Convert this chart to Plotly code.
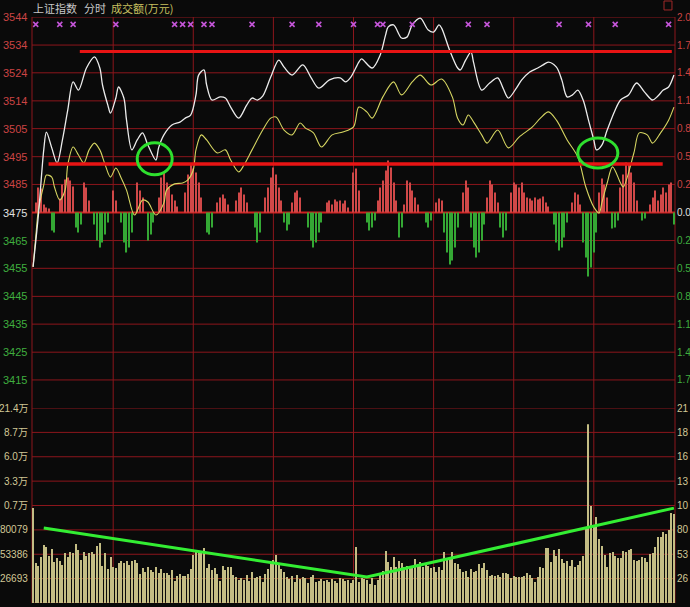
import plotly.graph_objects as go

# ---------------- data ----------------
minutes = list(range(241))

# price line (上证指数) key points: minute index, price
white_min = [0,2,4,5,7,9,11,13,15,17,20,23,25,26,28,29,31,32,34,35,
             37,39,41,43,46,47,49,52,55,57,59,61,62,64,65,67,70,72,74,77,
             80,82,84,86,89,92,94,97,101,104,107,111,115,117,119,122,123,127,130,132,
             133,135,138,140,142,145,148,150,152,153,156,159,160,162,164,165,168,171,174,176,
             178,181,183,186,189,191,193,196,198,200,202,204,206,208,210,211,213,215,218,220,
             223,226,229,232,234,236,238,240]
white_val = [3455.8,3474.1,3497.1,3503.4,3497.8,3492.5,3500.6,3511.2,3521.1,3518.2,
             3526.0,3529.9,3526.0,3520.0,3512.9,3510.1,3515.4,3519.3,3515.4,3507.6,
             3497.1,3500.6,3503.1,3498.8,3493.5,3497.8,3502.4,3505.9,3506.9,3508.3,
             3509.4,3516.5,3523.5,3525.3,3520.0,3514.7,3515.8,3515.4,3512.2,3508.3,
             3512.9,3515.4,3514.7,3516.1,3522.8,3528.8,3526.3,3523.5,3527.1,3522.8,
             3518.9,3521.8,3522.5,3521.1,3522.8,3528.1,3529.2,3526.0,3530.6,3537.6,
             3540.5,3541.2,3536.6,3536.9,3541.2,3543.6,3539.4,3538.7,3541.2,3540.1,
             3532.3,3526.0,3525.3,3528.8,3531.6,3527.8,3518.2,3520.7,3522.5,3518.9,
             3515.4,3518.9,3521.8,3524.6,3526.0,3527.1,3528.1,3526.3,3521.8,3515.8,
             3516.5,3518.2,3514.7,3507.6,3500.6,3497.1,3498.8,3504.1,3511.2,3514.7,
             3516.5,3520.7,3517.5,3514.7,3516.1,3518.2,3519.3,3523.5]

# leading line (yellow) key points
yellow_min = [0,1,2,4,5,7,8,10,12,13,15,17,19,21,23,25,27,29,31,33,
              35,38,41,43,46,49,50,53,56,58,60,61,63,65,69,72,74,77,79,82,
              86,89,91,94,97,100,102,105,108,112,116,120,122,125,127,131,135,138,142,145,
              149,153,157,159,161,163,165,168,170,174,178,182,187,190,193,196,200,204,207,210,
              212,213,215,217,220,221,225,227,230,232,235,238,240]
yellow_val = [3455.8,3466.4,3475.9,3484.7,3488.2,3487.5,3484.0,3479.4,3482.9,3491.8,
              3498.1,3495.3,3492.5,3497.1,3499.5,3497.1,3491.8,3487.5,3490.7,3487.2,
              3482.9,3474.1,3479.4,3478.7,3474.1,3478.4,3482.9,3485.1,3485.4,3486.5,
              3490.0,3497.1,3502.4,3500.6,3496.0,3497.1,3493.5,3489.3,3491.8,3497.1,
              3504.1,3508.3,3508.7,3504.1,3502.4,3506.6,3504.8,3503.1,3498.1,3502.4,
              3503.4,3505.2,3512.2,3510.5,3508.3,3515.8,3521.1,3516.5,3521.1,3523.5,
              3520.0,3522.1,3515.8,3508.3,3505.9,3509.4,3506.9,3502.4,3499.5,3504.1,
              3497.8,3501.6,3505.2,3508.3,3510.5,3507.6,3500.6,3494.6,3484.0,3476.9,
              3474.8,3478.4,3485.4,3491.1,3485.4,3484.0,3496.0,3503.1,3502.4,3499.5,
              3503.1,3507.6,3512.2]

# buy/sell strength bars (red above / green below the 3475 baseline)
strength = [0,10,25,24,8,5,4,-18,-20,0,
            14,28,33,35,32,26,-15,-20,-12,30,
            25,12,0,-12,-28,-35,-30,-22,-10,0,
            22,12,0,-10,-30,-40,-35,-20,0,30,
            22,15,0,-28,-22,-10,0,15,35,40,
            30,25,18,12,6,0,0,20,38,48,
            44,40,30,15,0,-20,-22,-15,0,10,
            15,18,14,8,0,0,12,20,25,18,
            10,0,0,-15,-30,-20,0,15,25,35,
            45,38,25,12,-10,-18,-12,10,20,22,
            15,0,0,-15,-28,-35,-30,-20,-10,0,
            10,12,8,13,11,12,9,12,5,0,
            40,44,22,0,0,-10,-18,-15,-8,12,
            25,32,42,52,45,30,12,-25,-15,8,
            32,30,22,15,8,0,0,-10,-15,-8,
            0,10,14,12,-20,-40,-52,-48,-35,-15,
            0,20,32,25,-15,-35,-45,-40,-28,-12,
            15,32,28,20,10,-15,-25,-18,0,20,
            30,28,25,30,20,15,14,12,15,13,
            14,16,10,6,0,-12,-30,-38,-35,-25,
            -10,0,10,20,18,8,-30,-45,-64,-55,
            -40,-20,20,34,28,15,0,-16,-15,-8,
            25,38,50,48,40,30,12,0,-8,-6,
            0,8,15,22,12,18,25,20,28,30,
            -12]

# turnover per minute (万元)
volume = [103930,43760,40480,50320,63450,61260,51420,59080,44850,49230,
          45950,41570,54700,50320,55790,54700,64550,57980,47040,55790,
          51420,54700,55790,53610,62360,65640,40480,54700,37200,50320,
          39380,38290,43760,45950,43760,45950,41570,45950,47040,43760,
          31730,38290,33910,39380,36100,33910,39380,32820,37200,32820,
          32820,30630,36100,24070,29540,31730,29540,29540,31730,37200,
          52510,55790,56890,54700,60170,38290,42670,36100,38290,31730,
          24070,40480,36100,39380,39380,30630,28440,25160,27350,25160,
          30630,24070,33910,27350,28440,29540,22970,31730,37200,42670,
          47040,52510,41570,37200,33910,28440,26260,29540,22970,30630,
          26260,28440,27350,21880,28440,30630,22970,24070,26260,24070,
          25160,22970,26260,24070,21880,27350,26260,24070,25160,21880,
          25160,61260,22970,27350,26260,25160,20790,27350,19690,25160,
          30630,35010,56890,44850,39380,50320,39380,45950,43760,39380,
          40480,38290,40480,48140,42670,44850,39380,41570,40480,38290,
          39380,33910,39380,36100,55790,48140,50320,55790,43760,42670,
          37200,33910,35010,28440,37200,33910,35010,42670,38290,43760,
          36100,29540,30630,29540,30630,28440,32820,32820,31730,27350,
          29540,28440,28440,28440,29540,32820,30630,27350,22970,28440,
          39380,38290,60170,60170,44850,57980,51420,59080,48140,43760,
          45950,40480,47040,39380,41570,45950,51420,80960,195830,106120,
          85330,94080,70020,62360,52510,39380,54700,55790,51420,49230,
          49230,56890,55790,57980,59080,47040,45950,47040,50320,49230,
          44850,53610,54700,61260,72200,72200,77670,75490,79860,98460,
          97370]

# signal markers (×) along the top
signal_min = [1,10,15,31,53,56,59,64,67,82,97,107,120,129,131,142,163,170,197,208,218,238]

# hand-drawn annotations
resist_level = 3531.8
support_level = 3492.1
trend_min = [4, 125, 240]
trend_vol = [82050, 28440, 103930]

# axis labels
price_ticks = [3544.0,3534.1,3524.3,3514.4,3504.6,3494.7,3484.9,3475.0,
               3465.1,3455.3,3445.4,3435.6,3425.7,3415.9]
price_labels = ["3544","3534","3524","3514","3505","3495","3485","3475",
                "3465","3455","3445","3435","3425","3415"]
pct_labels = ["2.0","1.7","1.4","1.1","0.8","0.5","0.2","0.0",
              "0.2","0.5","0.8","1.1","1.4","1.7"]
vol_ticks = [213544,186851,160158,133465,106772,80079,53386,26693]
vol_labels = ["21.4万","8.7万","6.0万","3.3万","0.7万","80079","53386","26693"]
vol_labels_r = ["21","18","16","13","10","80","53","26"]

# ---------------- styling ----------------
BG = "#0a0a0a"
GRID = "rgb(140,22,28)"
RED_TXT = "#cc4444"
GRN_TXT = "#3fae3f"
WHT_TXT = "#e0e0e0"
VOL_TXT = "#d2c896"
FONT = "Liberation Sans, Noto Sans CJK SC"
BASE = 3475.0

fig = go.Figure()

# strength bars
fig.add_trace(go.Bar(
    x=minutes, y=strength, width=0.4, xaxis="x", yaxis="y",
    marker=dict(color=["#d04848" if v > 0 else "#34a834" for v in strength], line=dict(width=0)),
    hoverinfo="skip"))

# volume bars
fig.add_trace(go.Bar(
    x=minutes, y=volume, width=0.38, xaxis="x", yaxis="y2",
    marker=dict(color="#c4bd84", line=dict(width=0)), hoverinfo="skip"))

# volume trend drawing
fig.add_trace(go.Scatter(
    x=trend_min, y=trend_vol, xaxis="x", yaxis="y2", mode="lines",
    line=dict(color="#33ee33", width=3), hoverinfo="skip"))

# yellow line
fig.add_trace(go.Scatter(
    x=yellow_min, y=yellow_val, xaxis="x", yaxis="y3", mode="lines",
    line=dict(color="#d6d662", width=1.1, shape="spline", smoothing=0.9), hoverinfo="skip"))

# white price line
fig.add_trace(go.Scatter(
    x=white_min, y=white_val, xaxis="x", yaxis="y3", mode="lines",
    line=dict(color="#ececec", width=1.3, shape="spline", smoothing=0.9), hoverinfo="skip"))

# signal markers
fig.add_trace(go.Scatter(
    x=signal_min, y=[3541.4] * len(signal_min), xaxis="x", yaxis="y3", mode="markers",
    marker=dict(symbol="x-thin", size=5, line=dict(color="#c455d8", width=1.6)),
    hoverinfo="skip"))

shapes = []
# horizontal grid lines (price panel)
for t in price_ticks:
    if t == BASE:
        continue
    shapes.append(dict(type="line", xref="paper", yref="y3", x0=0, x1=1, y0=t, y1=t,
                       line=dict(color=GRID, width=1), layer="below"))
# volume grid lines
for t in vol_ticks + [0]:
    col = "rgb(150,60,30)" if t in (26693, 0) else GRID
    shapes.append(dict(type="line", xref="paper", yref="y2", x0=0, x1=1, y0=t, y1=t,
                       line=dict(color=col, width=1), layer="below"))
# vertical grid lines
for m in range(30, 240, 30):
    shapes.append(dict(type="line", xref="x", yref="paper", x0=m, x1=m, y0=0, y1=1,
                       line=dict(color=GRID, width=1), layer="below"))
for px in (0, 1):
    shapes.append(dict(type="line", xref="paper", yref="paper", x0=px, x1=px, y0=0, y1=1,
                       line=dict(color=GRID, width=1), layer="below"))
# baseline 3475
shapes.append(dict(type="line", xref="paper", yref="y3", x0=0, x1=1, y0=BASE, y1=BASE,
                   line=dict(color="#d02020", width=2), layer="below"))
# hand-drawn red lines
shapes.append(dict(type="line", xref="x", yref="y3", x0=17.5, x1=239.2,
                   y0=resist_level, y1=resist_level, line=dict(color="#e81414", width=3)))
shapes.append(dict(type="line", xref="x", yref="y3", x0=5.8, x1=235.8,
                   y0=support_level, y1=support_level, line=dict(color="#e81414", width=3.5)))
# green circles
shapes.append(dict(type="circle", xref="x", yref="y3", x0=39.0, x1=52.1, y0=3488.3, y1=3499.6,
                   line=dict(color="#2ee02e", width=3)))
shapes.append(dict(type="circle", xref="x", yref="y3", x0=204.0, x1=219.0, y0=3490.7, y1=3501.3,
                   line=dict(color="#2ee02e", width=3)))
# small box at top right
shapes.append(dict(type="rect", xref="paper", yref="paper", x0=0.9829, x1=0.9953,
                   y0=1.012, y1=1.0273, line=dict(color="#a02828", width=1)))

ann = []
for t, lab, pl in zip(price_ticks, price_labels, pct_labels):
    col = WHT_TXT if t == BASE else (RED_TXT if t > BASE else GRN_TXT)
    ann.append(dict(xref="paper", yref="y3", x=0, y=t, text=lab, showarrow=False,
                    xanchor="right", yanchor="middle", xshift=-3,
                    font=dict(family=FONT, size=11, color=col)))
    ann.append(dict(xref="paper", yref="y3", x=1, y=t, text=pl, showarrow=False,
                    xanchor="left", yanchor="middle", xshift=0,
                    font=dict(family=FONT, size=10, color=col)))
for t, lab, lr in zip(vol_ticks, vol_labels, vol_labels_r):
    ann.append(dict(xref="paper", yref="y2", x=0, y=t, text=lab, showarrow=False,
                    xanchor="right", yanchor="middle", xshift=-2,
                    font=dict(family=FONT, size=10, color=VOL_TXT)))
    ann.append(dict(xref="paper", yref="y2", x=1, y=t, text=lr, showarrow=False,
                    xanchor="left", yanchor="middle", xshift=0,
                    font=dict(family=FONT, size=10, color=VOL_TXT)))
# title texts
ann.append(dict(xref="paper", yref="paper", x=0, y=1, text="上证指数", showarrow=False,
                xanchor="left", yanchor="middle", yshift=9, xshift=-1,
                font=dict(family="Noto Sans CJK SC", size=11, color="#c8c8c8")))
ann.append(dict(xref="paper", yref="paper", x=0, y=1, text="分时", showarrow=False,
                xanchor="left", yanchor="middle", yshift=9, xshift=50,
                font=dict(family="Noto Sans CJK SC", size=11, color="#c8c8c8")))
ann.append(dict(xref="paper", yref="paper", x=0, y=1, text="成交额(万元)", showarrow=False,
                xanchor="left", yanchor="middle", yshift=9, xshift=77,
                font=dict(family="Noto Sans CJK SC", size=11, color="#c8c060")))

split = 195.0 / 586.0
fig.update_layout(
    width=690, height=607,
    margin=dict(l=32, r=15, t=17, b=4),
    paper_bgcolor=BG, plot_bgcolor=BG,
    showlegend=False, barmode="overlay",
    shapes=shapes, annotations=ann,
    xaxis=dict(range=[-0.4, 240.4], showgrid=False, zeroline=False,
               showticklabels=False, ticks="", anchor="y2", fixedrange=True),
    yaxis=dict(domain=[split, 1], range=[-195.5, 195.5], showgrid=False, zeroline=False,
               showticklabels=False, ticks="", fixedrange=True),
    yaxis2=dict(domain=[0, split], range=[0, 213544], showgrid=False, zeroline=False,
                showticklabels=False, ticks="", fixedrange=True),
    yaxis3=dict(overlaying="y", anchor="x", range=[3406.0, 3544.0], showgrid=False,
                zeroline=False, showticklabels=False, ticks="", fixedrange=True),
)

fig.write_html(
    "out.html",
    config={"displayModeBar": False},
    post_script="document.body.style.margin='0';document.body.style.overflow='hidden';",
)
